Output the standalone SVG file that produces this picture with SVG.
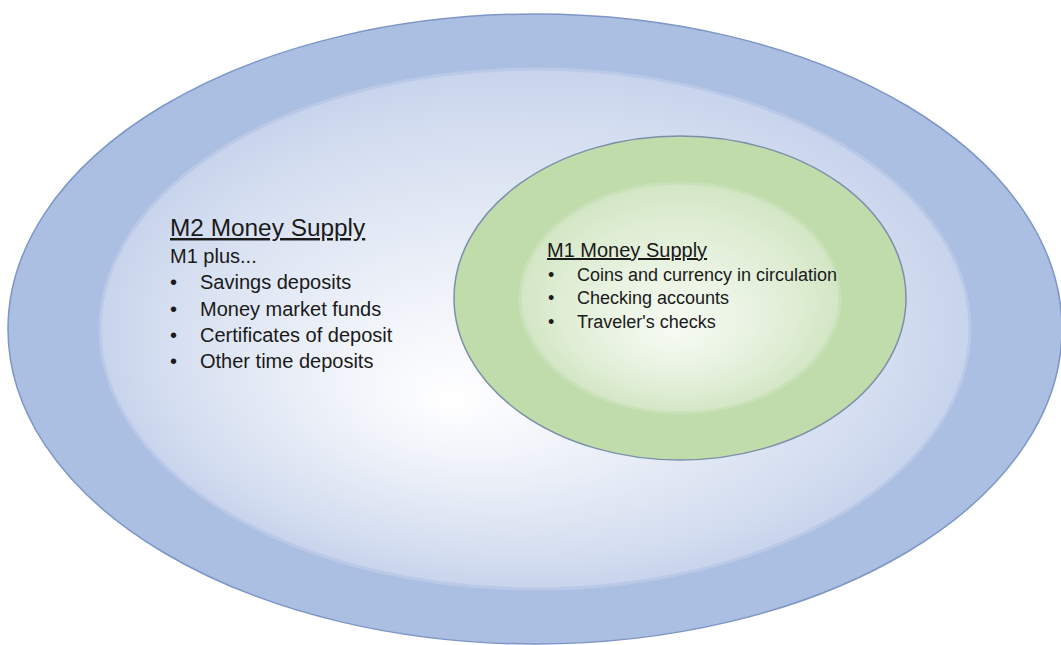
<svg xmlns="http://www.w3.org/2000/svg" width="1061" height="645" viewBox="0 0 1061 645">
  <defs>
    <radialGradient id="blueInner" cx="0.5" cy="0.5" r="0.5" fx="0.4" fy="0.64">
      <stop offset="0" stop-color="#ffffff"/>
      <stop offset="0.3" stop-color="#f1f4fa"/>
      <stop offset="0.6" stop-color="#e1e8f4"/>
      <stop offset="0.85" stop-color="#d3ddf0"/>
      <stop offset="1" stop-color="#c8d4ec"/>
    </radialGradient>
    <radialGradient id="greenInner" cx="0.5" cy="0.5" r="0.5" fx="0.48" fy="0.65">
      <stop offset="0" stop-color="#f6faf3"/>
      <stop offset="0.4" stop-color="#ebf4e4"/>
      <stop offset="0.75" stop-color="#deedd3"/>
      <stop offset="1" stop-color="#d2e6c4"/>
    </radialGradient>
  </defs>
  <style>
    text { font-family: "Liberation Sans", Arial, sans-serif; fill: #1a1a1a; }
    .t2 { font-size: 24.4px; text-decoration: underline; }
    .b2 { font-size: 20px; }
    .t1 { font-size: 20px; text-decoration: underline; }
    .b1 { font-size: 18px; }
    .soft { fill: none; stroke-width: 3; }
  </style>
  <rect width="1061" height="645" fill="#ffffff"/>
  <g id="m2">
    <ellipse cx="535" cy="329" rx="527" ry="315" fill="#abbfe2" stroke="#7d96c6" stroke-width="1.5"/>
    <ellipse cx="535" cy="329" rx="435" ry="260" fill="url(#blueInner)"/>
    <ellipse class="soft" cx="535" cy="329" rx="435" ry="260" stroke="#bac9e7"/>
    <text class="t2" x="170" y="236">M2 Money Supply</text>
    <text class="b2" x="170" y="263">M1 plus...</text>
    <text class="b2" x="170" y="289">•</text>
    <text class="b2" x="200" y="289">Savings deposits</text>
    <text class="b2" x="170" y="315.5">•</text>
    <text class="b2" x="200" y="315.5">Money market funds</text>
    <text class="b2" x="170" y="342">•</text>
    <text class="b2" x="200" y="342">Certificates of deposit</text>
    <text class="b2" x="170" y="368">•</text>
    <text class="b2" x="200" y="368">Other time deposits</text>
  </g>
  <g id="m1">
    <ellipse cx="680" cy="298" rx="226" ry="162" fill="#c0dcab" stroke="#7b8fab" stroke-width="1.5"/>
    <ellipse cx="680" cy="298" rx="160" ry="115" fill="url(#greenInner)"/>
    <ellipse class="soft" cx="680" cy="298" rx="160" ry="115" stroke="#c9e1b8"/>
    <text class="t1" x="547" y="257">M1 Money Supply</text>
    <text class="b1" x="548" y="280.5">•</text>
    <text class="b1" x="577" y="280.5">Coins and currency in circulation</text>
    <text class="b1" x="548" y="304">•</text>
    <text class="b1" x="577" y="304">Checking accounts</text>
    <text class="b1" x="548" y="327.5">•</text>
    <text class="b1" x="577" y="327.5">Traveler's checks</text>
  </g>
  <g id="connectors"/>
</svg>
